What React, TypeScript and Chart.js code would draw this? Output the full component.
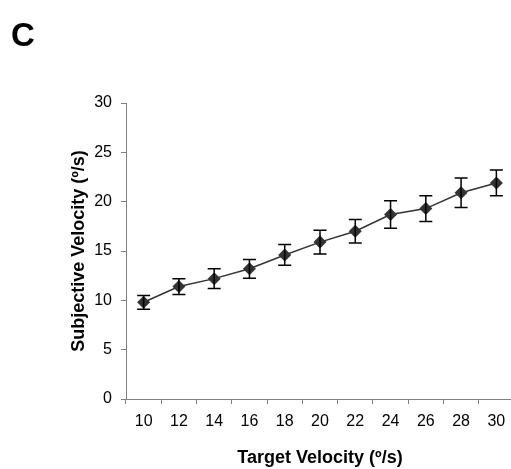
import React, { useEffect, useRef } from "react";
import { Chart, registerables } from "chart.js";

Chart.register(...registerables);

const categories = ["10", "12", "14", "16", "18", "20", "22", "24", "26", "28", "30"];
const meanVelocity = [9.8, 11.4, 12.2, 13.2, 14.6, 15.9, 17.0, 18.7, 19.3, 20.9, 21.9];
const errorVelocity = [0.7, 0.8, 1.0, 0.95, 1.05, 1.2, 1.2, 1.4, 1.3, 1.5, 1.3];
const panelLabel = "C";
const xTitle = "Target Velocity (º/s)";
const yTitle = "Subjective Velocity (º/s)";

const CANVAS_W = 530;
const CANVAS_H = 469;
const PAD_LEFT = 68;

const errorBarPlugin = {
  id: "errorBars",
  afterDatasetsDraw(chart: any) {
    const ctx = chart.ctx;
    const meta = chart.getDatasetMeta(0);
    const yScale = chart.scales.y;
    ctx.save();
    ctx.strokeStyle = "#000";
    ctx.lineWidth = 1.5;
    meta.data.forEach((pt: any, i: number) => {
      const x = pt.x;
      const top = yScale.getPixelForValue(meanVelocity[i] + errorVelocity[i]);
      const bot = yScale.getPixelForValue(meanVelocity[i] - errorVelocity[i]);
      ctx.beginPath();
      ctx.moveTo(x, top);
      ctx.lineTo(x, bot);
      ctx.moveTo(x - 6.5, top);
      ctx.lineTo(x + 6.5, top);
      ctx.moveTo(x - 6.5, bot);
      ctx.lineTo(x + 6.5, bot);
      ctx.stroke();
    });
    ctx.restore();
  },
};

const panelLabelPlugin = {
  id: "panelLabel",
  afterDraw(chart: any) {
    const ctx = chart.ctx;
    ctx.save();
    ctx.fillStyle = "#000";
    ctx.font = "bold 33px Arial, 'Liberation Sans', sans-serif";
    ctx.textBaseline = "alphabetic";
    ctx.textAlign = "left";
    ctx.fillText(panelLabel, 11, 46);
    ctx.restore();
  },
};

export default function App() {
  const ref = useRef<HTMLCanvasElement | null>(null);
  useEffect(() => {
    if (!ref.current) return;
    const font = "Arial, 'Liberation Sans', sans-serif";
    const chart = new Chart(ref.current, {
      type: "line",
      data: {
        labels: categories,
        datasets: [
          {
            data: meanVelocity,
            borderColor: "#333333",
            borderWidth: 1.5,
            backgroundColor: "#333333",
            pointStyle: "rectRot",
            pointRadius: 6.5,
            pointBorderWidth: 0,
            pointBackgroundColor: "#333333",
            tension: 0,
          },
        ],
      },
      options: {
        animation: false,
        responsive: false,
        devicePixelRatio: 1,
        layout: { padding: { left: PAD_LEFT, top: 103, right: CANVAS_W - 514, bottom: 0 } },
        plugins: { legend: { display: false }, tooltip: { enabled: false } },
        scales: {
          x: {
            type: "category",
            offset: true,
            afterFit: (s: any) => {
              s.height = 70;
            },
            grid: {
              offset: true,
              drawOnChartArea: false,
              drawTicks: true,
              tickLength: 5,
              color: "#808080",
            },
            border: { color: "#808080", width: 1 },
            ticks: { color: "#000", font: { family: font, size: 16 }, padding: 8, maxRotation: 0 },
            title: {
              display: true,
              text: xTitle,
              color: "#000",
              font: { family: font, size: 18, weight: "bold" },
              padding: { top: 0, bottom: 0 },
            },
          },
          y: {
            min: 0,
            max: 30,
            afterFit: (s: any) => {
              s.width = 126 - PAD_LEFT;
            },
            ticks: { stepSize: 5, color: "#000", font: { family: font, size: 16 }, padding: 9 },
            grid: {
              drawOnChartArea: false,
              drawTicks: true,
              tickLength: 5,
              color: "#808080",
            },
            border: { color: "#808080", width: 1 },
            title: {
              display: true,
              text: yTitle,
              color: "#000",
              font: { family: font, size: 18, weight: "bold" },
              padding: { top: 0, bottom: 0 },
            },
          },
        },
      },
      plugins: [errorBarPlugin, panelLabelPlugin],
    });
    return () => chart.destroy();
  }, []);
  return (
    <div style={{ position: "fixed", left: 0, top: 0, width: 511, height: 469, overflow: "hidden", background: "#fff" }}>
      <canvas ref={ref} width={CANVAS_W} height={CANVAS_H} style={{ display: "block", width: CANVAS_W, height: CANVAS_H }} />
    </div>
  );
}
